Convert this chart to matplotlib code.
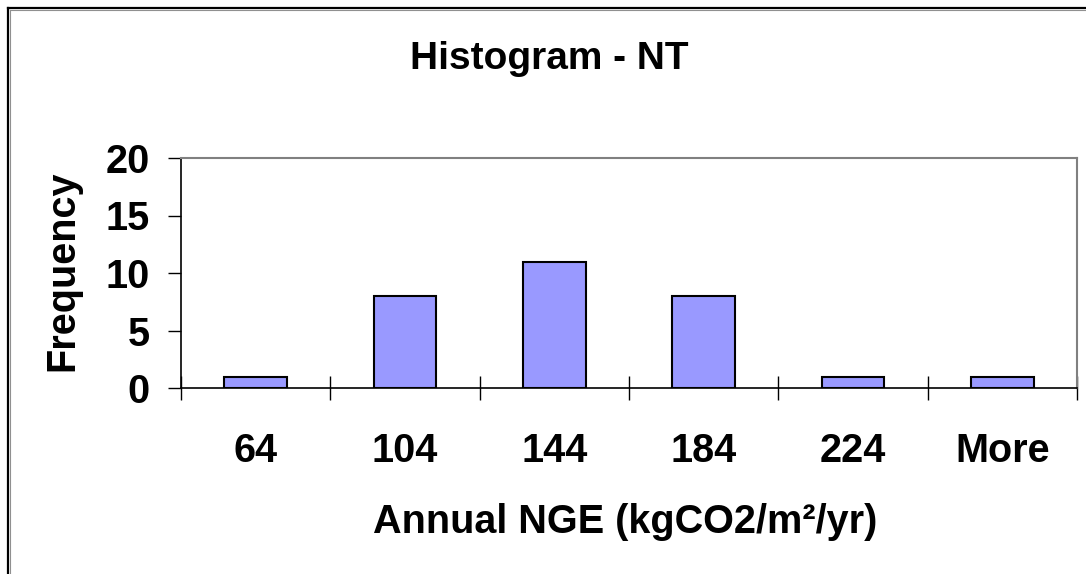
import matplotlib
matplotlib.use("Agg")
import matplotlib.pyplot as plt
from matplotlib.lines import Line2D
import numpy as np

plt.rcParams['font.family'] = ['Liberation Sans', 'DejaVu Sans']
plt.rcParams['font.weight'] = 'bold'

categories = ["64", "104", "144", "184", "224", "More"]
frequency = [1, 8, 11, 8, 1, 1]
title = "Histogram - NT"
xlabel = "Annual NGE (kgCO2/m²/yr)"
ylabel = "Frequency"
yticks = [0, 5, 10, 15, 20]

W, H = 1086, 574
fig = plt.figure(figsize=(W / 100, H / 100), dpi=100)
fig.patch.set_facecolor('white')

ax = fig.add_axes([181 / W, 1 - 388 / H, 896 / W, 230 / H])
x = np.arange(len(categories))
ax.bar(x, frequency, width=0.42, color='#9999FF', edgecolor='black', linewidth=1.5, zorder=3)

ax.set_xlim(-0.5, len(categories) - 0.5)
ax.set_ylim(0, 20)
ax.set_yticks(yticks)
ax.set_yticklabels([str(v) for v in yticks], fontsize=28.5, fontweight='bold')
ax.set_xticks(x)
ax.set_xticklabels(categories, fontsize=28.5, fontweight='bold')
ax.set_xticks(np.arange(-0.5, len(categories)), minor=True)
ax.tick_params(axis='x', which='major', length=0, pad=31.5)
ax.tick_params(axis='x', which='minor', direction='inout', length=17, width=1, color='black')
ax.tick_params(axis='y', which='major', direction='out', length=9.4, width=1, pad=13)

for s in ['top', 'right']:
    ax.spines[s].set_color('#808080')
    ax.spines[s].set_linewidth(1.5)
for s in ['left', 'bottom']:
    ax.spines[s].set_color('black')
    ax.spines[s].set_linewidth(1.2)

fig.text(549 / W, 1 - 69 / H, title, fontsize=28, fontweight='bold', ha='center', va='baseline')
fig.text(625 / W, 1 - 533 / H, xlabel, fontsize=28.5, fontweight='bold', ha='center', va='baseline')
fig.text(62.5 / W, 1 - 271 / H, ylabel, fontsize=28.5, fontweight='bold', ha='center', va='center', rotation=90)

# figure border (top and left visible)
fig.add_artist(Line2D([8 / W, 8 / W], [0, 1 - 8 / H], color='black', lw=1.6, transform=fig.transFigure))
fig.add_artist(Line2D([8 / W, 1], [1 - 8 / H, 1 - 8 / H], color='black', lw=1.6, transform=fig.transFigure))
fig.add_artist(Line2D([9.5 / W, 9.5 / W], [0, 1 - 9.5 / H], color='#909090', lw=0.8, transform=fig.transFigure))
fig.add_artist(Line2D([9.5 / W, 1], [1 - 9.5 / H, 1 - 9.5 / H], color='#909090', lw=0.8, transform=fig.transFigure))

fig.savefig('out.png', dpi=100)
